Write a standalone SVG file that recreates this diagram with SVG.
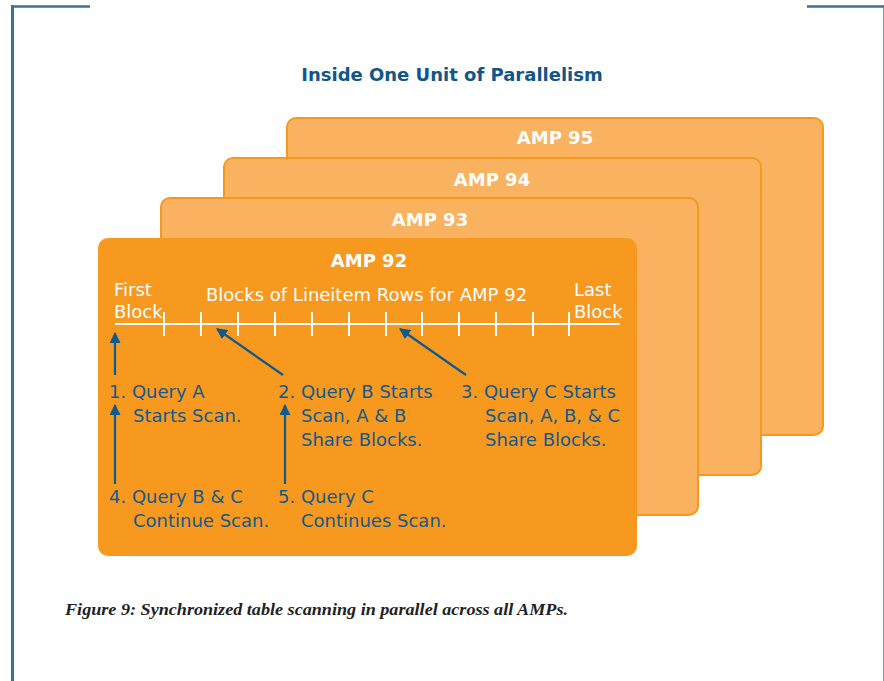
<svg xmlns="http://www.w3.org/2000/svg" width="884" height="681" viewBox="0 0 884 681">
  <style>
    .frame { stroke: #3d7196; fill: none; }
    .amp { fill: #f9b360; stroke: #f7981e; stroke-width: 2; }
    .amp-front { fill: #f7981f; }
    .amp-title { font-family: "DejaVu Sans", Verdana, sans-serif; font-size: 18px; font-weight: bold; fill: #ffffff; text-anchor: middle; }
    .title { font-family: "DejaVu Sans", Verdana, sans-serif; font-size: 18px; font-weight: bold; fill: #10568a; text-anchor: middle; }
    .lbl { font-family: "DejaVu Sans", Verdana, sans-serif; font-size: 18px; fill: #ffffff; }
    .step { font-family: "DejaVu Sans", Verdana, sans-serif; font-size: 18px; fill: #135a8c; }
    .axis { stroke: #ffffff; stroke-width: 2; fill: none; }
    .arrow { stroke: #0f5a8c; stroke-width: 2.2; fill: none; marker-end: url(#head); }
    .caption { font-family: "Liberation Serif", "Times New Roman", serif; font-size: 17px; font-weight: bold; font-style: italic; fill: #222222; }
  </style>
  <defs>
    <marker id="head" viewBox="0 0 10 10" refX="9" refY="5" markerWidth="5" markerHeight="5" orient="auto" markerUnits="strokeWidth">
      <path d="M0,0 L10,5 L0,10 z" fill="#0f5a8c"/>
    </marker>
  </defs>

  <rect width="884" height="681" fill="#ffffff"/>

  <!-- page frame -->
  <g id="frame">
    <line class="frame" x1="12.5" y1="5" x2="12.5" y2="681" stroke-width="3"/>
    <line class="frame" x1="11" y1="6.5" x2="90" y2="6.5" stroke-width="2.5"/>
    <line class="frame" x1="807" y1="6.5" x2="884" y2="6.5" stroke-width="2.5"/>
    <line class="frame" x1="883.5" y1="5" x2="883.5" y2="681" stroke-width="1" opacity="0.7"/>
  </g>

  <text class="title" x="452" y="81">Inside One Unit of Parallelism</text>

  <!-- stacked AMP cards, back to front -->
  <g id="amp95">
    <rect class="amp" x="287" y="118" width="536" height="317" rx="9"/>
    <text class="amp-title" x="555" y="144">AMP 95</text>
  </g>
  <g id="amp94">
    <rect class="amp" x="224" y="158" width="537" height="317" rx="9"/>
    <text class="amp-title" x="492" y="186">AMP 94</text>
  </g>
  <g id="amp93">
    <rect class="amp" x="161" y="198" width="537" height="317" rx="9"/>
    <text class="amp-title" x="430" y="226">AMP 93</text>
  </g>
  <g id="amp92">
    <rect class="amp-front" x="98" y="238" width="539" height="318" rx="10"/>
    <text class="amp-title" x="369" y="267">AMP 92</text>
    <text class="lbl" x="114" y="296">First</text>
    <text class="lbl" x="114" y="318">Block</text>
    <text class="lbl" x="206" y="301">Blocks of Lineitem Rows for AMP 92</text>
    <text class="lbl" x="574" y="296">Last</text>
    <text class="lbl" x="574" y="318">Block</text>
  </g>

  <!-- block timeline -->
  <g id="timeline">
    <line class="axis" x1="115" y1="324" x2="620" y2="324"/>
    <path class="axis" d="M164,312v24 M201,312v24 M238,312v24 M275,312v24 M312,312v24 M349,312v24 M386,312v24 M422,312v24 M459,312v24 M496,312v24 M533,312v24 M569,312v24"/>
  </g>

  <!-- query steps -->
  <g id="step1">
    <text class="step" x="109" y="398">1. Query A</text>
    <text class="step" x="133" y="422">Starts Scan.</text>
  </g>
  <g id="step2">
    <text class="step" x="278" y="398">2. Query B Starts</text>
    <text class="step" x="301" y="422">Scan, A &amp; B</text>
    <text class="step" x="301" y="446">Share Blocks.</text>
  </g>
  <g id="step3">
    <text class="step" x="461" y="398">3. Query C Starts</text>
    <text class="step" x="485" y="422">Scan, A, B, &amp; C</text>
    <text class="step" x="485" y="446">Share Blocks.</text>
  </g>
  <g id="step4">
    <text class="step" x="109" y="503">4. Query B &amp; C</text>
    <text class="step" x="133" y="527">Continue Scan.</text>
  </g>
  <g id="step5">
    <text class="step" x="278" y="503">5. Query C</text>
    <text class="step" x="301" y="527">Continues Scan.</text>
  </g>

  <!-- connectors -->
  <g id="connectors">
    <line class="arrow" x1="115" y1="375" x2="115" y2="333"/>
    <line class="arrow" x1="283" y1="375" x2="217" y2="329"/>
    <line class="arrow" x1="466" y1="375" x2="400" y2="329"/>
    <line class="arrow" x1="115" y1="484" x2="115" y2="405"/>
    <line class="arrow" x1="285" y1="484" x2="285" y2="405"/>
  </g>

  <text class="caption" x="65" y="615" textLength="503" lengthAdjust="spacingAndGlyphs">Figure 9: Synchronized table scanning in parallel across all AMPs.</text>
</svg>
